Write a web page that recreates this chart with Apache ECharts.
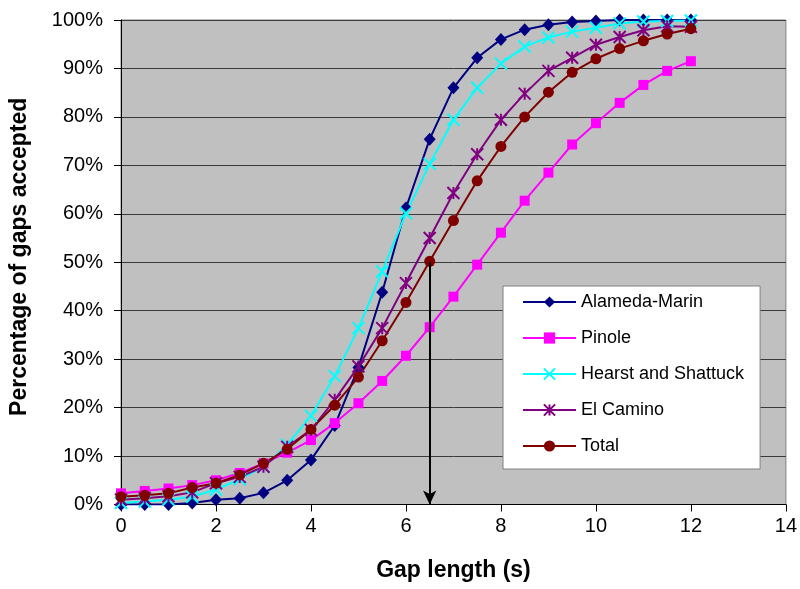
<!DOCTYPE html>
<html>
<head>
<meta charset="utf-8">
<script src="https://cdn.jsdelivr.net/npm/echarts@6/dist/echarts.min.js"></script>
<style>
html,body{margin:0;padding:0;background:#fff;}
#chart{width:800px;height:589px;}
</style>
</head>
<body>
<div id="chart"></div>
<script>
const gapLengths = [0,0.5,1,1.5,2,2.5,3,3.5,4,4.5,5,5.5,6,6.5,7,7.5,8,8.5,9,9.5,10,10.5,11,11.5,12];
const alamedaMarin = [0,0,0,0.3,1.0,1.3,2.4,5.0,9.2,16.3,28.3,43.8,61.2,75.4,86.0,92.2,96.0,98.0,99.0,99.6,99.8,100,100,100,100];
const pinole = [2.3,2.8,3.3,4.0,5.0,6.5,8.5,10.7,13.3,16.8,20.9,25.5,30.7,36.6,42.9,49.5,56.1,62.7,68.5,74.3,78.7,82.9,86.6,89.5,91.5];
const hearstShattuck = [0.3,0.6,1.0,1.6,3.1,5.2,7.8,12.3,18.3,26.5,36.4,48.1,60.1,70.3,79.4,86.0,91.0,94.5,96.4,97.6,98.4,99.3,99.7,99.8,99.9];
const elCamino = [1.0,1.3,1.7,2.5,4.4,5.7,7.8,11.9,15.4,21.6,28.5,36.4,45.7,55.0,64.3,72.3,79.4,84.8,89.5,92.2,94.9,96.5,97.9,98.7,98.6];
const total = [1.6,1.9,2.3,3.5,4.4,6.1,8.5,11.4,15.5,20.5,26.3,33.8,41.7,50.2,58.6,66.8,73.9,80.0,85.1,89.2,92.0,94.1,95.7,97.1,98.2];
const seriesNames = ['Alameda-Marin','Pinole','Hearst and Shattuck','El Camino','Total'];
const arrowFrom = [6.5, 50];
const arrowTo = [6.5, 0];

const font = 'Liberation Sans, Arial, sans-serif';
function pts(arr){ return gapLengths.map((x,i)=>[x,arr[i]]); }

const xPath = 'path://M0,0 L10,10 M10,0 L0,10';
const starPath = 'path://M0,0 L10,10 M10,0 L0,10 M5,0 L5,10';

function mk(name, data, color, symbol, size, extra){
  const s = {
    name, type:'line', data: pts(data), symbol, symbolSize: size,
    lineStyle:{color, width:2}, itemStyle:{color, borderColor:color, borderWidth:0},
    emphasis:{disabled:true}, animation:false, z: 3
  };
  return Object.assign(s, extra||{});
}

const chart = echarts.init(document.getElementById('chart'), null, {renderer:'canvas'});
chart.setOption({
  animation:false,
  grid:{left:119, right:11, top:20, bottom:84.5, show:true, backgroundColor:'#C0C0C0', borderColor:'#808080', borderWidth:1},
  xAxis:{
    type:'value', min:0, max:14, interval:2,
    name:'Gap length (s)', nameLocation:'middle', nameGap:55,
    nameTextStyle:{fontFamily:font, fontSize:23, fontWeight:'bold', color:'#000'},
    axisLine:{show:true, onZero:false, lineStyle:{color:'#000', width:1}},
    axisTick:{show:true, length:7, lineStyle:{color:'#000'}},
    axisLabel:{fontFamily:font, fontSize:20, color:'#000', margin:12},
    splitLine:{show:false}
  },
  yAxis:{
    type:'value', min:0, max:100, interval:10,
    name:'Percentage of gaps accepted', nameLocation:'middle', nameGap:90,
    nameTextStyle:{fontFamily:font, fontSize:23, fontWeight:'bold', color:'#000', padding:[0,0,0,11]},
    axisLine:{show:true, lineStyle:{color:'#000', width:1}},
    axisTick:{show:true, length:7, lineStyle:{color:'#000'}},
    axisLabel:{fontFamily:font, fontSize:20, color:'#000', margin:18, formatter:'{value}%'},
    splitLine:{show:true, lineStyle:{color:'#3a3a3a', width:1}}
  },
  legend:{
    data: seriesNames, orient:'vertical', left:503, top:286,
    backgroundColor:'#fff', borderColor:'#808080', borderWidth:1,
    padding:[7,16,14,19], itemGap:18, itemWidth:53, itemHeight:14,
    textStyle:{fontFamily:font, fontSize:18, color:'#000'}
  },
  series:[
    mk(seriesNames[0], alamedaMarin, '#000080', 'diamond', [12,13]),
    mk(seriesNames[1], pinole, '#FF00FF', 'rect', 10),
    Object.assign(mk(seriesNames[2], hearstShattuck, '#00FFFF', xPath, 12), {itemStyle:{color:'#00FFFF', borderColor:'#00FFFF', borderWidth:2}}),
    Object.assign(mk(seriesNames[3], elCamino, '#800080', starPath, 12), {itemStyle:{color:'#800080', borderColor:'#800080', borderWidth:2}}),
    mk(seriesNames[4], total, '#800000', 'circle', 11, {
      markLine:{
        silent:true, symbol:['none','arrow'], symbolSize:[10,14],
        label:{show:false},
        lineStyle:{color:'#000', width:2, type:'solid'},
        data:[[{coord:arrowFrom},{coord:arrowTo}]],
        animation:false
      }
    })
  ]
});
</script>
</body>
</html>
